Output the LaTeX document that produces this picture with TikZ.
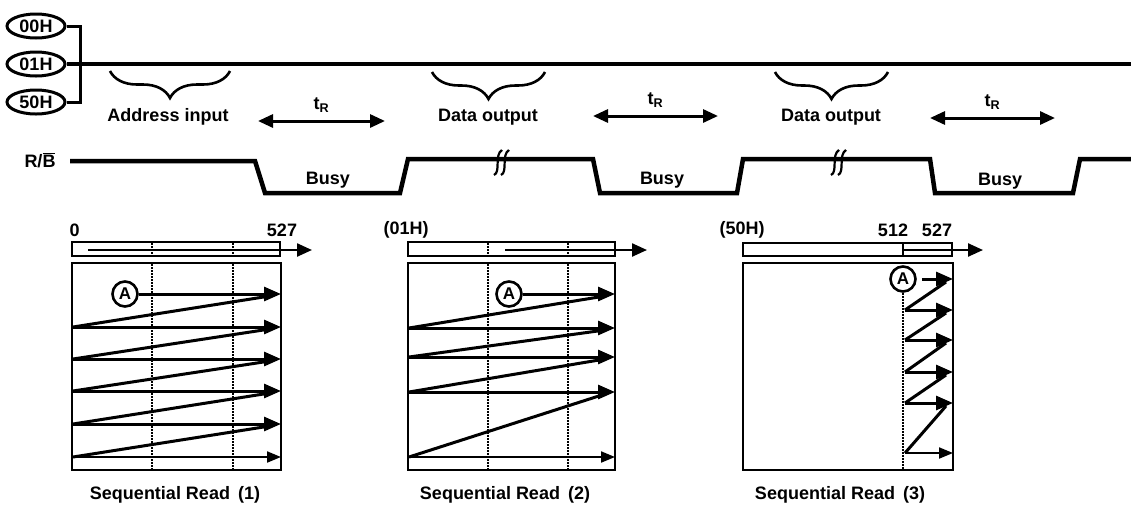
\documentclass[tikz,border=0pt]{standalone}
\usepackage{fontspec}
\setmainfont{Liberation Sans}
\usetikzlibrary{arrows.meta,shapes.geometric,decorations.pathreplacing,positioning}

\begin{document}
\begin{tikzpicture}[x=1pt, y=-1pt,
                    font=\bfseries\fontsize{18}{21}\selectfont,
                    addr/.style={ellipse, draw, line width=3pt, inner sep=0pt, minimum width=58pt, minimum height=24pt},
                    signal/.style={line width=4.5pt, line join=miter},
                    bus/.style={line width=4.5pt},
                    curly/.style={decorate, decoration={brace, amplitude=27pt, aspect=0.5}, line width=2.6pt},
                    span/.style={{Triangle[length=15pt,width=13pt]}-{Triangle[length=15pt,width=13pt]}, line width=3pt},
                    frame/.style={draw, line width=2.8pt},
                    grid/.style={densely dotted, line width=2pt},
                    row/.style={-{Triangle[length=17pt,width=14pt]}, line width=3pt},
                    lastrow/.style={-{Triangle[length=14pt,width=11pt]}, line width=2pt},
                    zig/.style={line width=3pt},
                    start/.style={circle, draw, line width=2.6pt, inner sep=0pt, minimum size=25pt, font=\bfseries\fontsize{17}{17}\selectfont}
                ]
    \useasboundingbox (0,0) rectangle (1131,507);

    % address inputs onto the I/O bus
    \node[addr] (a00) at (36,26) {00H};
    \node[addr] (a01) at (36,64) {01H};
    \node[addr] (a50) at (36,102) {50H};
    \coordinate (join) at (80,64);
    \coordinate (busend) at (1131,64);
    \draw[line width=3pt] (a00.east) -| (join) |- (a50.east);
    \draw[bus] (a01.east) -- (busend);

    % phases on the bus
    \draw[curly] (230,71) -- (110,71);
    \draw[curly] (545,72) -- (432,72);
    \draw[curly] (888,72) -- (775,72);
    \node (addrin) at (168,117) {Address input};
    \node (dout1) at (488,117) {Data output};
    \node (dout2) at (831,117) {Data output};

    % read times
    \coordinate (t1a) at (258,121);
    \coordinate (t1b) at (385,121);
    \coordinate (t2a) at (593,116);
    \coordinate (t2b) at (718,116);
    \coordinate (t3a) at (930,118);
    \coordinate (t3b) at (1055,118);
    \draw[span] (t1a) -- (t1b) node[midway, above=4pt] (tr1) {t\textsubscript{R}};
    \draw[span] (t2a) -- (t2b) node[midway, above=4pt] (tr2) {t\textsubscript{R}};
    \draw[span] (t3a) -- (t3b) node[midway, above=4pt] (tr3) {t\textsubscript{R}};

    % ready/busy line
    \node (rb) at (40,160) {R/$\overline{\mbox{B}}$};
    \draw[signal] (70,161) -- (255,161) -- (265,193) -- (400,193) -- (408,159) -- (593,159)
        -- (600,193) -- (737,193) -- (743,159) -- (930,159) -- (935,193) -- (1073,193)
        -- (1080,159) -- (1131,159);
    \node (busy1) at (328,180) {Busy};
    \node (busy2) at (662,180) {Busy};
    \node (busy3) at (1000,181) {Busy};
    \foreach \bx in {494,831} {
        \draw[line width=2.2pt] (\bx,175) .. controls (\bx+7,172) and (\bx,155) .. (\bx+8,150);
        \draw[line width=2.2pt] (\bx+7,175) .. controls (\bx+14,172) and (\bx+7,155) .. (\bx+15,150);
    }

    % sequential read (1)
    \node[anchor=west] (lo1) at (66,230) {0};
    \node (hi1) at (282,230) {527};
    \draw[frame] (72,242) rectangle (280,256);
    \draw[frame] (72,263) rectangle (281,470);
    \foreach \gx in {152,233} {
        \draw[grid] (\gx,243) -- (\gx,255);
        \draw[grid] (\gx,264) -- (\gx,469);
    }
    \draw[line width=2.4pt, -{Triangle[length=15pt,width=13pt]}] (88,250) -- (312,250);
    \node[start] (A1) at (125,294) {A};
    \draw[row] (A1) -- (281,294);
    \foreach \ya/\yb in {294/327, 327/359, 359/391, 391/424, 424/457} {
        \draw[zig] (73,\yb) -- (270,\ya+2);
    }
    \foreach \yr in {327,359,391,424} {
        \draw[row] (73,\yr) -- (281,\yr);
    }
    \draw[lastrow] (73,457) -- (281,457);
    \node (cap1) at (175,495) {Sequential Read\, (1)};

    % sequential read (2)
    \node[anchor=west] (lo2) at (380,230) {(01H)};
    \draw[frame] (408,242) rectangle (615,256);
    \draw[frame] (408,263) rectangle (615,470);
    \foreach \gx in {488,568} {
        \draw[grid] (\gx,243) -- (\gx,255);
        \draw[grid] (\gx,264) -- (\gx,469);
    }
    \draw[line width=2.4pt, -{Triangle[length=15pt,width=13pt]}] (505,250) -- (647,250);
    \node[start] (A2) at (509,294) {A};
    \draw[row] (A2) -- (615,294);
    \foreach \ya/\yb in {294/328, 328/357, 357/392, 392/457} {
        \draw[zig] (409,\yb) -- (605,\ya+2);
    }
    \foreach \yr in {328,357,392} {
        \draw[row] (409,\yr) -- (615,\yr);
    }
    \draw[lastrow] (409,457) -- (615,457);
    \node (cap2) at (505,495) {Sequential Read\, (2)};

    % sequential read (3)
    \node[anchor=west] (lo3) at (716,230) {(50H)};
    \node (mid3) at (893,230) {512};
    \node (hi3) at (937,230) {527};
    \draw[frame] (743,243) rectangle (952,256);
    \draw[frame] (743,263) rectangle (953,470);
    \draw[line width=2.4pt] (903,243) -- (903,256);
    \draw[line width=2.4pt, -{Triangle[length=15pt,width=13pt]}] (903,250) -- (983,250);
    \node[start] (A3) at (903,279) {A};
    \draw[grid] (A3.south) -- (A3.south |- 0,469);
    \draw[row] (A3.east) ++(5,0) -- (953,279);
    \foreach \ya/\yb in {279/310, 310/340, 340/372, 372/403, 403/453} {
        \draw[zig] (905,\yb) -- (946,\ya+3);
    }
    \foreach \yr in {310,340,372,403} {
        \draw[row] (905,\yr) -- (953,\yr);
    }
    \draw[lastrow] (905,453) -- (953,453);
    \node (cap3) at (840,495) {Sequential Read\, (3)};
\end{tikzpicture}
\end{document}
